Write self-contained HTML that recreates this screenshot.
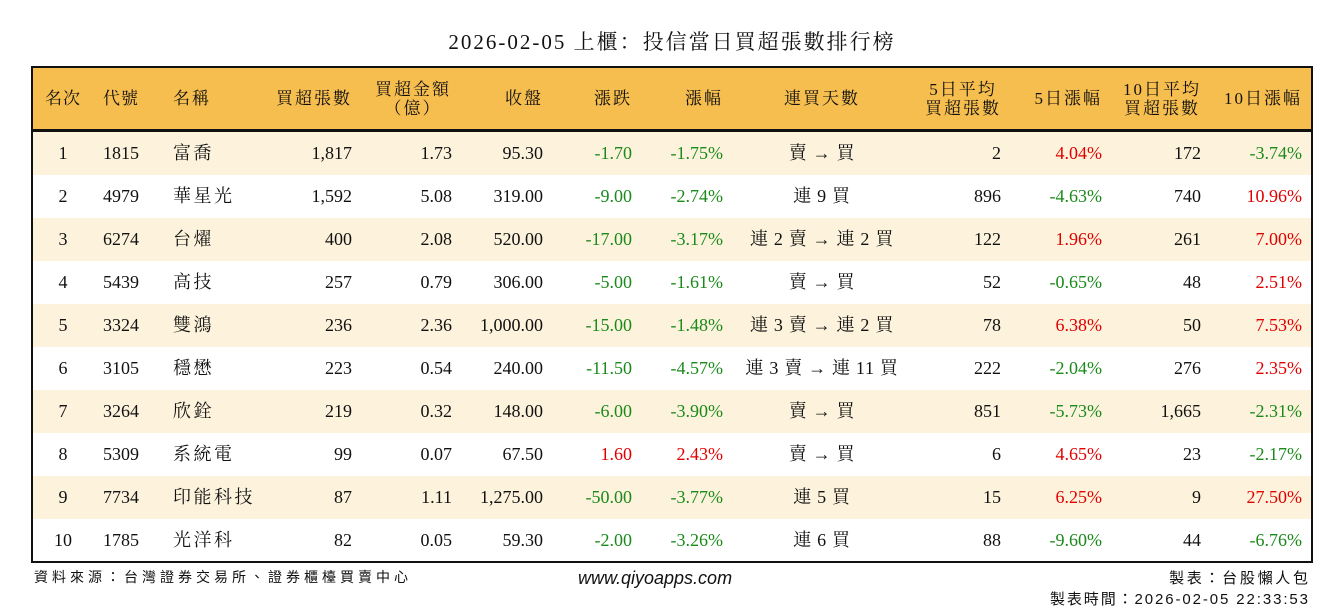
<!DOCTYPE html>
<html><head><meta charset="utf-8"><style>
body{margin:0;width:1344px;height:612px;background:#fff;position:relative;overflow:hidden;font-family:"Liberation Serif","Noto Serif CJK SC","Noto Sans CJK TC",serif;color:#111}
.t{position:absolute;top:26px;left:0;width:1344px;text-align:center;font-size:21px;letter-spacing:2px}
.box{position:absolute;left:31px;top:66px;width:1278px;height:493px;border:2px solid #111}
.hd{position:absolute;left:0;top:0;width:1278px;height:61px;background:#F6BE4F;border-bottom:3px solid #111;font-size:17px;letter-spacing:2px}
.r{position:absolute;left:0;width:1278px;height:43px;line-height:43px;font-size:18px}
.o{background:#FDF3DC}
.r span,.hd span{position:absolute;white-space:nowrap}
.hd span{top:0;height:61px;display:flex;align-items:center;line-height:19px}
.c1{left:0;width:60px;text-align:center;justify-content:center}
.c2{left:70px;width:60px}
.c3{left:140px;width:130px;letter-spacing:2.5px}
.c4{left:219px;width:100px;text-align:right;justify-content:flex-end}
.c5{left:339px;width:80px;text-align:right;justify-content:flex-end}
.c6{left:430px;width:80px;text-align:right;justify-content:flex-end}
.c7{left:519px;width:80px;text-align:right;justify-content:flex-end}
.c8{left:610px;width:80px;text-align:right;justify-content:flex-end}
.c9{left:689px;width:200px;text-align:center;justify-content:center}
.r .c9{letter-spacing:0.7px}
.c10{left:888px;width:80px;text-align:right;justify-content:flex-end}
.c11{left:979px;width:90px;text-align:right;justify-content:flex-end}
.c12{left:1088px;width:80px;text-align:right;justify-content:flex-end}
.c13{left:1179px;width:90px;text-align:right;justify-content:flex-end}
.hd .c4,.hd .c6,.hd .c7,.hd .c8,.hd .c10,.hd .c11,.hd .c12,.hd .c13{margin-right:-2px}
.g{color:#1a8a1a}.d{color:#e00000}
.f{position:absolute;font-size:15px;font-family:"Liberation Sans","Noto Sans CJK TC",sans-serif}
</style></head><body>
<div class="t">2026-02-05 上櫃：投信當日買超張數排行榜</div>
<div class="box">
<div class="hd">
<span class="c1" style="letter-spacing:1px">名次</span><span class="c2" style="letter-spacing:1px">代號</span><span class="c3" style="letter-spacing:2px">名稱</span><span class="c4">買超張數</span>
<span class="c5" style="left:330px;width:100px;justify-content:center;text-align:center">買超金額<br>（億）</span>
<span class="c6">收盤</span><span class="c7">漲跌</span><span class="c8">漲幅</span><span class="c9">連買天數</span>
<span class="c10" style="text-align:center">5日平均<br>買超張數</span><span class="c11">5日漲幅</span>
<span class="c12" style="text-align:center">10日平均<br>買超張數</span><span class="c13">10日漲幅</span>
</div>
<div class="r o" style="top:64px"><span class="c1">1</span><span class="c2">1815</span><span class="c3">富喬</span><span class="c4">1,817</span><span class="c5">1.73</span><span class="c6">95.30</span><span class="c7 g">-1.70</span><span class="c8 g">-1.75%</span><span class="c9">賣 → 買</span><span class="c10">2</span><span class="c11 d">4.04%</span><span class="c12">172</span><span class="c13 g">-3.74%</span></div>
<div class="r" style="top:107px"><span class="c1">2</span><span class="c2">4979</span><span class="c3">華星光</span><span class="c4">1,592</span><span class="c5">5.08</span><span class="c6">319.00</span><span class="c7 g">-9.00</span><span class="c8 g">-2.74%</span><span class="c9">連 9 買</span><span class="c10">896</span><span class="c11 g">-4.63%</span><span class="c12">740</span><span class="c13 d">10.96%</span></div>
<div class="r o" style="top:150px"><span class="c1">3</span><span class="c2">6274</span><span class="c3">台燿</span><span class="c4">400</span><span class="c5">2.08</span><span class="c6">520.00</span><span class="c7 g">-17.00</span><span class="c8 g">-3.17%</span><span class="c9">連 2 賣 → 連 2 買</span><span class="c10">122</span><span class="c11 d">1.96%</span><span class="c12">261</span><span class="c13 d">7.00%</span></div>
<div class="r" style="top:193px"><span class="c1">4</span><span class="c2">5439</span><span class="c3">高技</span><span class="c4">257</span><span class="c5">0.79</span><span class="c6">306.00</span><span class="c7 g">-5.00</span><span class="c8 g">-1.61%</span><span class="c9">賣 → 買</span><span class="c10">52</span><span class="c11 g">-0.65%</span><span class="c12">48</span><span class="c13 d">2.51%</span></div>
<div class="r o" style="top:236px"><span class="c1">5</span><span class="c2">3324</span><span class="c3">雙鴻</span><span class="c4">236</span><span class="c5">2.36</span><span class="c6">1,000.00</span><span class="c7 g">-15.00</span><span class="c8 g">-1.48%</span><span class="c9">連 3 賣 → 連 2 買</span><span class="c10">78</span><span class="c11 d">6.38%</span><span class="c12">50</span><span class="c13 d">7.53%</span></div>
<div class="r" style="top:279px"><span class="c1">6</span><span class="c2">3105</span><span class="c3">穩懋</span><span class="c4">223</span><span class="c5">0.54</span><span class="c6">240.00</span><span class="c7 g">-11.50</span><span class="c8 g">-4.57%</span><span class="c9">連 3 賣 → 連 11 買</span><span class="c10">222</span><span class="c11 g">-2.04%</span><span class="c12">276</span><span class="c13 d">2.35%</span></div>
<div class="r o" style="top:322px"><span class="c1">7</span><span class="c2">3264</span><span class="c3">欣銓</span><span class="c4">219</span><span class="c5">0.32</span><span class="c6">148.00</span><span class="c7 g">-6.00</span><span class="c8 g">-3.90%</span><span class="c9">賣 → 買</span><span class="c10">851</span><span class="c11 g">-5.73%</span><span class="c12">1,665</span><span class="c13 g">-2.31%</span></div>
<div class="r" style="top:365px"><span class="c1">8</span><span class="c2">5309</span><span class="c3">系統電</span><span class="c4">99</span><span class="c5">0.07</span><span class="c6">67.50</span><span class="c7 d">1.60</span><span class="c8 d">2.43%</span><span class="c9">賣 → 買</span><span class="c10">6</span><span class="c11 d">4.65%</span><span class="c12">23</span><span class="c13 g">-2.17%</span></div>
<div class="r o" style="top:408px"><span class="c1">9</span><span class="c2">7734</span><span class="c3">印能科技</span><span class="c4">87</span><span class="c5">1.11</span><span class="c6">1,275.00</span><span class="c7 g">-50.00</span><span class="c8 g">-3.77%</span><span class="c9">連 5 買</span><span class="c10">15</span><span class="c11 d">6.25%</span><span class="c12">9</span><span class="c13 d">27.50%</span></div>
<div class="r" style="top:451px"><span class="c1">10</span><span class="c2">1785</span><span class="c3">光洋科</span><span class="c4">82</span><span class="c5">0.05</span><span class="c6">59.30</span><span class="c7 g">-2.00</span><span class="c8 g">-3.26%</span><span class="c9">連 6 買</span><span class="c10">88</span><span class="c11 g">-9.60%</span><span class="c12">44</span><span class="c13 g">-6.76%</span></div>
</div>
<div class="f" style="left:34px;top:567px;font-size:14px;letter-spacing:4px">資料來源：台灣證券交易所、證券櫃檯買賣中心</div>
<div class="f" style="left:578px;top:568px;font-size:18px;font-style:italic">www.qiyoapps.com</div>
<div class="f" style="right:36px;top:567px;text-align:right;font-size:15px;letter-spacing:2.7px;margin-right:-2.7px">製表：台股懶人包</div>
<div class="f" style="right:36px;top:588px;text-align:right;font-size:15px;letter-spacing:1.9px;margin-right:-1.9px">製表時間：2026-02-05 22:33:53</div>
</body></html>
